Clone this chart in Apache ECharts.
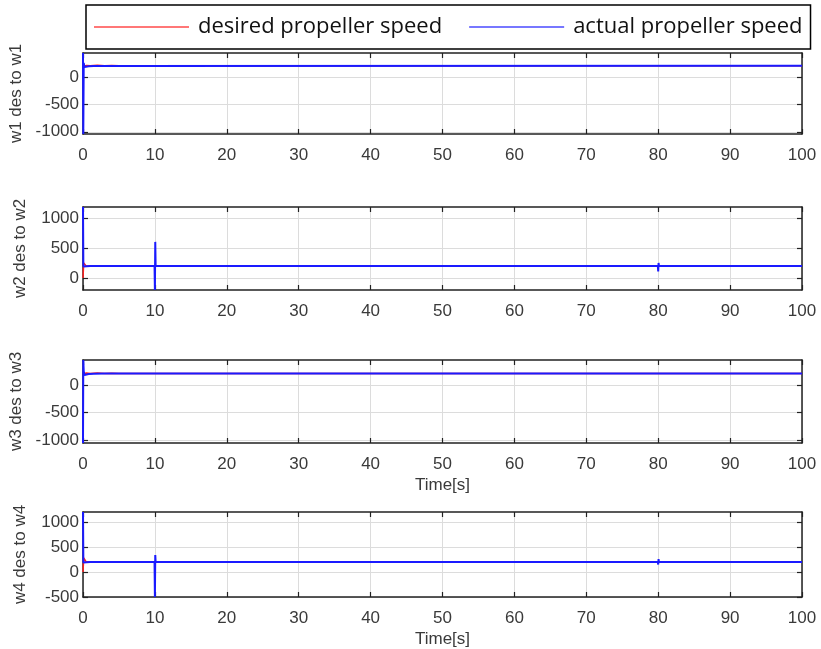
<!DOCTYPE html>
<html>
<head>
<meta charset="utf-8">
<script src="https://cdn.jsdelivr.net/npm/echarts@6/dist/echarts.min.js"></script>
<style>
  html, body { margin: 0; padding: 0; background: #fff; }
  #chart { width: 821px; height: 649px; }
</style>
</head>
<body>
<div id="chart"></div>
<script>
// Propeller speed tracking: desired vs actual, rotors w1..w4, time in seconds.
const legendNames = ['desired propeller speed', 'actual propeller speed'];
const yAxisNames = ['w1 des to w1', 'w2 des to w2', 'w3 des to w3', 'w4 des to w4'];
const xTickValues = [0, 10, 20, 30, 40, 50, 60, 70, 80, 90, 100];
const yTickValues = [
  [-1000, -500, 0],
  [0, 500, 1000],
  [-1000, -500, 0],
  [-500, 0, 500, 1000]
];
const yRanges = [[-1040, 440], [-200, 1180], [-1050, 450], [-500, 1200]];

// w1
const w1DesTime = [0, 0.1, 0.5, 1, 2, 3, 4, 5, 100];
const w1Des     = [200, 205, 212, 206, 214, 207, 213, 205, 205];
const w1ActTime = [0, 0.04, 0.1, 0.2, 0.4, 0.8, 1.5, 3, 100];
const w1Act     = [440, -1040, 260, 185, 192, 198, 202, 204, 205];

// w2
const w2DesTime = [0, 0.1, 0.4, 1, 100];
const w2Des     = [0, 250, 205, 200, 200];
const w2ActTime = [0, 0.05, 0.3, 1, 9.95, 10, 10.05, 10.1, 79.95, 80, 80.05, 80.1, 100];
const w2Act     = [1180, 190, 195, 200, 200, -200, 600, 200, 200, 110, 250, 200, 200];

// w3
const w3DesTime = [0, 0.1, 0.5, 1, 2, 3, 4, 5, 100];
const w3Des     = [200, 206, 214, 205, 213, 206, 212, 205, 205];
const w3ActTime = [0, 0.04, 0.1, 0.2, 0.4, 0.8, 1.5, 3, 100];
const w3Act     = [-1050, 450, 250, 180, 190, 198, 202, 204, 205];

// w4
const w4DesTime = [0, 0.1, 0.4, 1, 100];
const w4Des     = [0, 280, 210, 200, 200];
const w4ActTime = [0, 0.05, 0.3, 1, 9.95, 10, 10.05, 10.1, 79.95, 80, 80.05, 80.1, 100];
const w4Act     = [1200, 190, 195, 200, 200, -500, 340, 200, 200, 150, 260, 200, 200];

const desTimes = [w1DesTime, w2DesTime, w3DesTime, w4DesTime];
const desVals  = [w1Des, w2Des, w3Des, w4Des];
const actTimes = [w1ActTime, w2ActTime, w3ActTime, w4ActTime];
const actVals  = [w1Act, w2Act, w3Act, w4Act];

const zip = (t, v) => t.map((x, i) => [x, v[i]]);

const gridTops = [53, 207, 360, 512];
const gridHeights = [81, 83, 83, 85];
const showTimeName = [false, false, true, true];

const FONT = 'Liberation Sans, Arial, sans-serif';
const TICK_COLOR = '#3a3a3a';
const plain = v => String(v);

const grids = [], xAxes = [], yAxes = [], series = [];

for (let i = 0; i < 4; i++) {
  grids.push({
    left: 83, right: 19, top: gridTops[i], height: gridHeights[i],
    containLabel: false, outerBoundsMode: 'none'
  });

  // bottom x axis with labels
  xAxes.push({
    type: 'value', gridIndex: i, min: 0, max: 100, interval: 10,
    position: 'bottom',
    axisLine: { show: true, onZero: false, lineStyle: { color: '#222', width: 1.5 } },
    axisTick: { show: true, inside: true, length: 5, lineStyle: { color: '#222', width: 1.2 } },
    axisLabel: { show: true, margin: 13, fontSize: 17, color: TICK_COLOR, fontFamily: FONT, formatter: plain },
    splitLine: { show: true, lineStyle: { color: '#dcdcdc', width: 1 } },
    name: showTimeName[i] ? 'Time[s]' : '',
    nameLocation: 'middle', nameGap: 34,
    nameTextStyle: { fontSize: 17, color: TICK_COLOR, fontFamily: FONT }
  });
  // top x axis: box edge with inward ticks
  xAxes.push({
    type: 'value', gridIndex: i, min: 0, max: 100, interval: 10,
    position: 'top',
    axisLine: { show: true, onZero: false, lineStyle: { color: '#222', width: 1.5 } },
    axisTick: { show: true, inside: true, length: 5, lineStyle: { color: '#222', width: 1.2 } },
    axisLabel: { show: false },
    splitLine: { show: false }
  });

  const yr = yRanges[i];
  yAxes.push({
    type: 'value', gridIndex: i, min: yr[0], max: yr[1],
    position: 'left',
    axisLine: { show: true, onZero: false, lineStyle: { color: '#222', width: 1.5 } },
    axisTick: { show: true, inside: true, length: 5, customValues: yTickValues[i], lineStyle: { color: '#222', width: 1.2 } },
    axisLabel: { show: true, margin: 4, fontSize: 17, color: TICK_COLOR, fontFamily: FONT,
                 customValues: yTickValues[i], formatter: plain },
    splitLine: { show: true, lineStyle: { color: '#dcdcdc', width: 1 } },
    name: yAxisNames[i], nameLocation: 'middle', nameGap: 54, nameRotate: 90,
    nameTextStyle: { fontSize: 17, color: TICK_COLOR, fontFamily: FONT }
  });
  yAxes.push({
    type: 'value', gridIndex: i, min: yr[0], max: yr[1],
    position: 'right',
    axisLine: { show: true, onZero: false, lineStyle: { color: '#222', width: 1.5 } },
    axisTick: { show: true, inside: true, length: 5, customValues: yTickValues[i], lineStyle: { color: '#222', width: 1.2 } },
    axisLabel: { show: false },
    splitLine: { show: false }
  });

  series.push({
    name: legendNames[0], type: 'line', xAxisIndex: 2 * i, yAxisIndex: 2 * i,
    data: zip(desTimes[i], desVals[i]), showSymbol: false, symbol: 'none',
    lineStyle: { color: '#ff2020', width: 1.5 }, itemStyle: { color: '#ff2020' },
    animation: false, z: 2
  });
  series.push({
    name: legendNames[1], type: 'line', xAxisIndex: 2 * i, yAxisIndex: 2 * i,
    data: zip(actTimes[i], actVals[i]), showSymbol: false, symbol: 'none',
    lineStyle: { color: '#1a1aff', width: 2 }, itemStyle: { color: '#1a1aff' },
    animation: false, z: 3
  });
}

const chart = echarts.init(document.getElementById('chart'), null, { renderer: 'canvas' });
chart.setOption({
  backgroundColor: '#fff',
  animation: false,
  legend: {
    data: [
      { name: legendNames[0], itemStyle: { color: '#ff4a4a' } },
      { name: legendNames[1], itemStyle: { color: '#4a4aff' } }
    ],
    left: 86, top: 5,
    orient: 'horizontal',
    icon: 'rect',
    itemWidth: 95, itemHeight: 1.5,
    itemGap: 27,
    padding: [11, 8, 11, 8],
    borderColor: '#000', borderWidth: 1.5,
    textStyle: { fontSize: 22, color: '#111', fontFamily: 'Open Sans, sans-serif', padding: [0, 0, 0, 4] },
    selectedMode: false
  },
  grid: grids,
  xAxis: xAxes,
  yAxis: yAxes,
  series: series
});
</script>
</body>
</html>
